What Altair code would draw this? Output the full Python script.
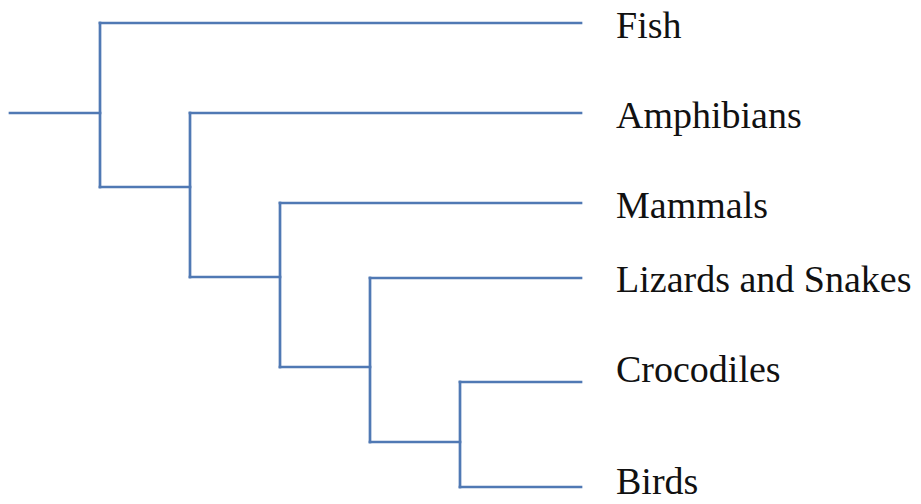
import altair as alt
import pandas as pd

# Tree data (positions in picture units)
leaves = ["Fish", "Amphibians", "Mammals", "Lizards and Snakes", "Crocodiles", "Birds"]
leaf_y = [23, 113, 203, 278, 382, 487]          # vertical position of each leaf branch
label_baseline = [37.7, 127.7, 217.7, 291.7, 381.7, 494]
node_x = [100, 190, 280, 370, 460]               # depth of each internal node (root first)
node_stem_y = [113, 187, 277, 367, 442]          # where each node's stem enters it
root_start_x = 10
leaf_end_x = 581
label_x = 616

segs = []
n = len(node_x)
for i in range(n):
    # stem from parent (or root start) into the node
    parent_x = root_start_x if i == 0 else node_x[i - 1]
    segs.append(dict(x=parent_x, x2=node_x[i], y=node_stem_y[i], y2=node_stem_y[i]))
    # vertical span: top child is leaf i, bottom child is next node (or last leaf)
    bottom = node_stem_y[i + 1] if i < n - 1 else leaf_y[-1]
    segs.append(dict(x=node_x[i], x2=node_x[i], y=leaf_y[i], y2=bottom))
    # leaf branch
    segs.append(dict(x=node_x[i], x2=leaf_end_x, y=leaf_y[i], y2=leaf_y[i]))
segs.append(dict(x=node_x[-1], x2=leaf_end_x, y=leaf_y[-1], y2=leaf_y[-1]))
seg_df = pd.DataFrame(segs)

lab_df = pd.DataFrame({"name": leaves, "y": label_baseline, "x": [label_x] * len(leaves)})

xs = alt.Scale(domain=[0, 921], nice=False, zero=False)
ys = alt.Scale(domain=[0, 504], nice=False, zero=False, reverse=True)

lines = alt.Chart(seg_df).mark_rule(color="#5079B4", strokeWidth=2.7, strokeCap="square").encode(
    x=alt.X("x:Q", scale=xs, axis=None),
    x2="x2:Q",
    y=alt.Y("y:Q", scale=ys, axis=None),
    y2="y2:Q",
)

labels = alt.Chart(lab_df).mark_text(
    align="left", baseline="alphabetic", font="Liberation Serif", fontSize=38, color="#111111"
).encode(
    x=alt.X("x:Q", scale=xs, axis=None),
    y=alt.Y("y:Q", scale=ys, axis=None),
    text="name:N",
)

chart = (lines + labels).properties(
    width=921, height=504,
    padding={"left": -8, "top": -8, "right": -8, "bottom": -8},
    autosize=alt.AutoSizeParams(type="none"),
    background="white",
).configure_view(stroke=None)

chart.save("out.html", embed_options={"renderer": "svg", "actions": False})
